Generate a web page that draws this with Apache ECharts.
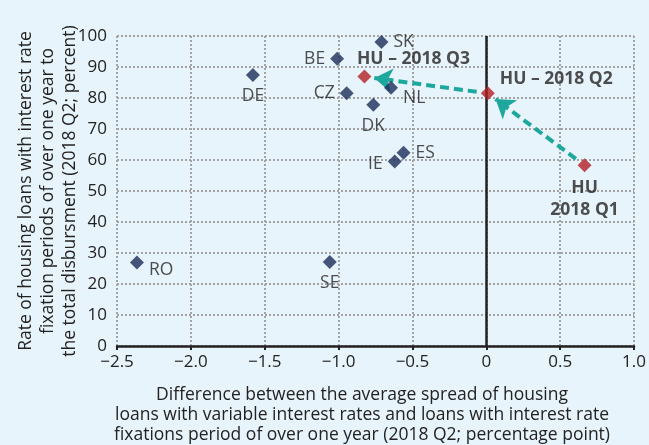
<!DOCTYPE html>
<html>
<head>
<meta charset="utf-8">
<script src="https://cdn.jsdelivr.net/npm/echarts@6/dist/echarts.min.js"></script>
<style>
html, body { margin: 0; padding: 0; background: #e8f4fb; }
#chart { width: 649px; height: 445px; }
</style>
</head>
<body>
<div id="chart"></div>
<script>
// country points (2018 Q2)
const countries = ['SK', 'BE', 'DE', 'CZ', 'NL', 'DK', 'IE', 'ES', 'RO', 'SE'];
const spreadDiff = [-0.71, -1.01, -1.58, -0.945, -0.645, -0.765, -0.62, -0.56, -2.365, -1.06];
const fixedShare = [98.1, 92.7, 87.4, 81.5, 83.3, 77.8, 59.5, 62.3, 26.9, 27.1];

// Hungary path
const huPeriods = ['HU\n2018 Q1', 'HU – 2018 Q2', 'HU – 2018 Q3'];
const huSpread = [0.665, 0.01, -0.825];
const huShare = [58.3, 81.5, 86.9];

const xAxisName = 'Difference between the average spread of housing\nloans with variable interest rates and loans with interest rate\nfixations period of over one year (2018 Q2; percentage point)';
const yAxisName = 'Rate of housing loans with interest rate\nfixation periods of over one year to\nthe total disbursment (2018 Q2; percent)';

const FONT = '"Open Sans", sans-serif';
const TXT = '#222';

// label placement per country
const labelPos = {
    SK: { position: 'right' },
    BE: { position: 'left' },
    DE: { position: 'bottom' },
    CZ: { position: 'left' },
    NL: { position: 'right', offset: [0, 10] },
    DK: { position: 'bottom' },
    IE: { position: 'left', offset: [0, 2] },
    ES: { position: 'right' },
    RO: { position: 'right', offset: [0, 7] },
    SE: { position: 'bottom' }
};
const huLabelPos = [
    { position: 'bottom', lineHeight: 22 },
    { position: 'right', offset: [0, -14] },
    { position: 'top', offset: [49, 3] }
];

// arrow between two HU periods, pulled back a bit from both markers
function arrow(i, j) {
    const f0 = 0.09, f1 = 0.08;
    const ax = huSpread[i], ay = huShare[i], bx = huSpread[j], by = huShare[j];
    return {
        coords: [
            [ax + (bx - ax) * f0, ay + (by - ay) * f0],
            [bx - (bx - ax) * f1, by - (by - ay) * f1]
        ]
    };
}

function gridLine() {
    return { show: true, lineStyle: { color: '#a3a3a3', width: 2, type: 'dotted' } };
}

const chart = echarts.init(document.getElementById('chart'));
chart.setOption({
    animation: false,
    textStyle: { fontFamily: FONT, color: TXT },
    grid: { left: 117, right: 13, top: 36, bottom: 99 },
    // axis titles as plain text so the grid keeps its size
    graphic: [
        {
            type: 'text',
            x: 48,
            y: 191,
            rotation: Math.PI / 2,
            style: {
                text: yAxisName, fill: TXT, fontFamily: FONT, fontSize: 17.5,
                lineHeight: 22, align: 'center', verticalAlign: 'middle'
            }
        },
        {
            type: 'text',
            x: 362,
            y: 415,
            style: {
                text: xAxisName, fill: TXT, fontFamily: FONT, fontSize: 17.5,
                lineHeight: 20, align: 'center', verticalAlign: 'middle'
            }
        }
    ],
    xAxis: {
        type: 'value',
        min: -2.5,
        max: 1,
        interval: 0.5,
        axisLine: { onZero: false, lineStyle: { color: '#222', width: 2.5 } },
        axisTick: { show: true, length: 4, lineStyle: { color: '#222', width: 2 } },
        axisLabel: {
            fontFamily: FONT, fontSize: 17, color: TXT, margin: 8,
            formatter: v => v === 0 ? '0' : (v < 0 ? '−' : '') + Math.abs(v).toFixed(1)
        },
        splitLine: gridLine()
    },
    yAxis: {
        type: 'value',
        min: 0,
        max: 100,
        interval: 10,
        axisLine: { show: false },
        axisTick: { show: false },
        axisLabel: { fontFamily: FONT, fontSize: 17, color: TXT, margin: 10 },
        splitLine: gridLine()
    },
    series: [
        {
            type: 'lines',
            coordinateSystem: 'cartesian2d',
            symbol: ['none', 'arrow'],
            symbolSize: [15, 18],
            lineStyle: { color: '#1ea79c', width: 4, type: [9, 5], opacity: 1 },
            data: [arrow(0, 1), arrow(1, 2)],
            z: 3
        },
        {
            type: 'scatter',
            symbol: 'diamond',
            symbolSize: 14,
            itemStyle: { color: '#1b2d5a' },
            label: { show: true, fontFamily: FONT, fontSize: 17.5, color: TXT, distance: 5 },
            // vertical line at zero difference
            markLine: {
                silent: true,
                symbol: 'none',
                label: { show: false },
                lineStyle: { color: '#222', width: 2.5, type: 'solid' },
                data: [{ xAxis: 0 }]
            },
            data: countries.map((c, i) => ({
                name: c,
                value: [spreadDiff[i], fixedShare[i]],
                label: Object.assign({ formatter: c }, labelPos[c])
            })),
            z: 4
        },
        {
            type: 'scatter',
            symbol: 'diamond',
            symbolSize: 14,
            itemStyle: { color: '#b21f24' },
            label: { show: true, fontFamily: FONT, fontSize: 17.5, fontWeight: 'bold', color: TXT, distance: 5 },
            data: huPeriods.map((p, i) => ({
                name: p,
                value: [huSpread[i], huShare[i]],
                label: Object.assign({ formatter: p }, huLabelPos[i])
            })),
            z: 5
        }
    ]
});
</script>
</body>
</html>
